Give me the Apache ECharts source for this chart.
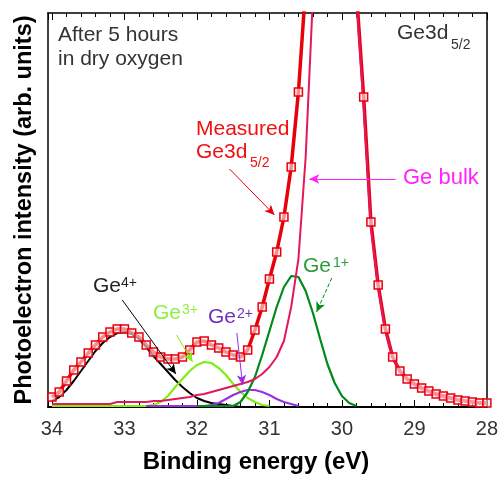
<!DOCTYPE html>
<html>
<head>
<meta charset="utf-8">
<script src="https://cdn.jsdelivr.net/npm/echarts@6/dist/echarts.min.js"></script>
<style>
html, body { margin: 0; padding: 0; background: #fff; }
#main { width: 501px; height: 479px; }
</style>
</head>
<body>
<div id="main"></div>
<script>
// binding energy grid (eV), high to low
var energy = [34.0, 33.9, 33.8, 33.7, 33.6, 33.5, 33.4, 33.3, 33.2, 33.1,
              33.0, 32.9, 32.8, 32.7, 32.6, 32.5, 32.4, 32.3, 32.2, 32.1,
              32.0, 31.9, 31.8, 31.7, 31.6, 31.5, 31.4, 31.3, 31.2, 31.1,
              31.0, 30.9, 30.8, 30.7, 30.6, 30.5, 30.4, 30.3, 30.2, 30.1,
              30.0, 29.9, 29.8, 29.7, 29.6, 29.5, 29.4, 29.3, 29.2, 29.1,
              29.0, 28.9, 28.8, 28.7, 28.6, 28.5, 28.4, 28.3, 28.2, 28.1, 28.0];

// measured Ge3d5/2 spectrum (arb. units)
var measured = [10, 15, 26, 37, 45, 54, 62, 70, 75, 78,
                78, 74, 70, 62, 55, 50, 48, 48, 50, 57,
                65, 66, 62, 59, 55, 52, 50, 57, 77, 100,
                128, 155, 190, 240, 315, 420, 560, 700, 800, 850,
                820, 680, 415, 310, 185, 122, 78, 50, 36, 28,
                23, 19, 16, 13, 11, 9, 7, 6, 5, 4, 4];

// Ge bulk component
var bulk = [3, 3, 3, 3, 3, 3, 3, 3, 3, 5,
            5, 5, 5, 5, 6, 6, 7, 8, 9, 10,
            12, 13, 15, 17, 19, 21, 23, 25, 28, 33,
            40, 50, 66, 100, 148, 250, 410, 600, 750, 800,
            760, 640, 410, 300, 180, 120, 76, 50, 36, 28,
            22, 18, 15, 12, 10, 8, 7, 6, 5, 5, 4];

// oxide components, each starts at the given energy
var ge4Start = 34.0;
var ge4 = [6, 10, 17, 26, 36, 46, 56, 64, 70, 74, 75, 73, 68, 60, 51, 43, 35, 27, 20, 14,
           9, 6, 4, 3, 2, 1, 0, 0, 0, 0, 0];
var ge3Start = 34.0;
var ge3 = [1, 1, 1, 1, 1, 1, 1, 1, 1, 1, 1, 1, 1, 1, 2, 5, 11, 20, 28, 36,
           42, 45, 44, 39, 32, 23, 15, 9, 5, 2, 1];
var ge2Start = 32.7;
var ge2 = [1, 1, 1, 1, 1, 1, 1, 1, 1, 2, 4, 8, 12, 15, 17, 17, 15, 12, 8, 5, 3, 1];
var ge1Start = 32.0;
var ge1 = [1, 1, 1, 1, 1, 1, 5, 15, 30, 52, 76, 100, 120, 131, 130, 116, 94, 68, 43, 24, 11, 4, 1];

// arrows: [from eV, from y, to eV, to y]
var measuredArrow = [31.55, 238, 30.93, 192];
var bulkArrow = [29.26, 228, 30.45, 228];
var ge4Arrow = [33.03, 107, 32.29, 33];
var ge3Arrow = [32.28, 72, 32.06, 45];
var ge2Arrow = [31.45, 74, 31.37, 22];
var ge1Arrow = [30.14, 129, 30.35, 95];

var xTicks = [28, 29, 30, 31, 32, 33, 34];

function pairs(start, values) {
    var i0 = energy.indexOf(start);
    return values.map(function (v, i) { return [energy[i0 + i], v]; });
}

function arrow(a, color, type) {
    return {
        silent: true,
        symbol: ['none', 'arrow'],
        symbolSize: [7, 10],
        label: { show: false },
        lineStyle: { color: color, width: 1, type: type || 'solid' },
        data: [[{ coord: [a[0], a[1]] }, { coord: [a[2], a[3]] }]]
    };
}

function comp(name, data, color, width, mark) {
    return {
        name: name,
        type: 'line',
        data: data,
        showSymbol: false,
        clip: true,
        lineStyle: { color: color, width: width },
        itemStyle: { color: color },
        markLine: mark
    };
}

var FONT = 'Liberation Sans, Arial, sans-serif';

function note(x, y, s, size, color, va) {
    return {
        type: 'text', z: 100, x: x, y: y,
        style: { text: s, fill: color, fontSize: size, fontFamily: FONT,
                 textAlign: 'left', textVerticalAlign: va || 'middle' }
    };
}

var myChart = echarts.init(document.getElementById('main'));

var xBase = {
    type: 'value',
    inverse: true,
    min: 28,
    max: 34.055,
    interval: 1,
    splitLine: { show: false },
    minorSplitLine: { show: false },
    axisLine: { show: true, onZero: false, lineStyle: { color: '#000', width: 1.5 } },
    axisTick: { show: true, inside: true, length: 7, lineStyle: { color: '#000', width: 1 } },
    minorTick: { show: true, splitNumber: 5, length: 4, lineStyle: { color: '#000', width: 1 } }
};

var option = {
    animation: false,
    backgroundColor: '#fff',
    grid: { left: 48, right: 9, top: 13, bottom: 72, containLabel: false },
    xAxis: [
        Object.assign({}, xBase, {
            position: 'bottom',
            axisLine: { show: true, onZero: false, lineStyle: { color: '#000', width: 2 } },
            axisLabel: {
                show: true, fontSize: 20, color: '#333', margin: 12, fontFamily: FONT,
                formatter: function (v) {
                    return xTicks.indexOf(Math.round(v * 1000) / 1000) >= 0 ? String(v) : '';
                }
            }
        }),
        Object.assign({}, xBase, { position: 'top', axisLabel: { show: false } })
    ],
    yAxis: [
        {
            type: 'value', min: 0, max: 394,
            axisLine: { show: true, lineStyle: { color: '#000', width: 1.5 } },
            axisTick: { show: false }, axisLabel: { show: false }, splitLine: { show: false },
            name: 'Photoelectron intensity (arb. units)',
            nameLocation: 'middle', nameGap: 11, nameRotate: 90,
            nameTextStyle: { fontSize: 23.5, fontWeight: 'bold', color: '#000', fontFamily: FONT }
        },
        {
            type: 'value', min: 0, max: 394, position: 'right',
            axisLine: { show: true, lineStyle: { color: '#000', width: 1.5 } },
            axisTick: { show: false }, axisLabel: { show: false }, splitLine: { show: false }
        }
    ],
    series: [
        {
            name: 'Measured',
            type: 'line',
            data: pairs(34.0, measured),
            clip: true,
            symbol: 'rect',
            symbolSize: 8,
            showSymbol: true,
            showAllSymbol: true,
            lineStyle: { color: '#e8000b', width: 3.5 },
            itemStyle: { color: 'rgba(255,235,235,0.6)', borderColor: '#e8000b', borderWidth: 1.5 },
            markLine: arrow(measuredArrow, '#e8000b')
        },
        comp('Ge4+', pairs(ge4Start, ge4), '#000000', 2, arrow(ge4Arrow, '#000000')),
        comp('Ge3+', pairs(ge3Start, ge3), '#80ee10', 2.2, arrow(ge3Arrow, '#80ee10')),
        comp('Ge2+', pairs(ge2Start, ge2), '#9a2ee6', 2, arrow(ge2Arrow, '#9a2ee6')),
        comp('Ge1+', pairs(ge1Start, ge1), '#008a1a', 2.2, arrow(ge1Arrow, '#008a1a', 'dashed')),
        comp('Ge bulk', pairs(34.0, bulk), '#e3185c', 2, arrow(bulkArrow, '#ff22ff'))
    ],
    graphic: [
        note(58, 35, 'After 5 hours', 21, '#333'),
        note(58, 59, 'in dry oxygen', 21, '#333'),
        note(397, 33, 'Ge3d', 21, '#333'),
        note(451, 45, '5/2', 14, '#333'),
        note(196, 129, 'Measured', 21, '#f01010'),
        note(196, 152, 'Ge3d', 21, '#f01010'),
        note(250, 163, '5/2', 14, '#f01010'),
        note(403, 178, 'Ge bulk', 22, '#ff22ff'),
        note(93, 286, 'Ge', 21, '#222'),
        note(121, 276, '4+', 14, '#222', 'top'),
        note(153, 313, 'Ge', 21, '#8cf040'),
        note(182, 303, '3+', 14, '#8cf040', 'top'),
        note(208, 317, 'Ge', 21, '#7030c0'),
        note(237, 307, '2+', 14, '#7030c0', 'top'),
        note(303, 266, 'Ge', 21, '#2a9a3a'),
        note(333, 256, '1+', 14, '#2a9a3a', 'top'),
        {
            type: 'text', z: 100, x: 256, y: 462,
            style: { text: 'Binding energy (eV)', fill: '#000', fontSize: 24, fontWeight: 'bold',
                     fontFamily: FONT, textAlign: 'center', textVerticalAlign: 'middle' }
        }
    ]
};

myChart.setOption(option);
</script>
</body>
</html>
